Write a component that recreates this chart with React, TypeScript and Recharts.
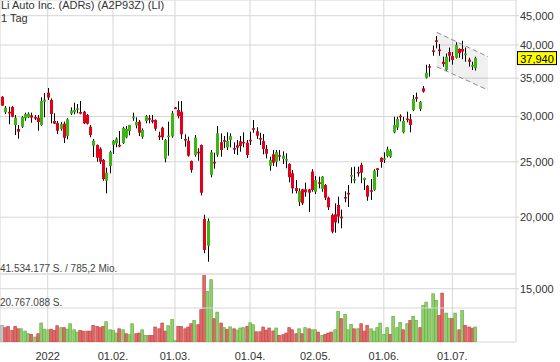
import { ComposedChart, Bar, Area, XAxis, YAxis, CartesianGrid, ReferenceLine } from "recharts";

// daily OHLC, one entry per trading day (Dec 2021 - Jul 2022)
const open = [
  32480, 30510, 30560, 31160, 28985, 28520, 28787, 29777, 29900, 30140,
  29930, 29852, 28985, 31835, 33010, 32054, 29456, 29220, 28522, 29140,
  27730, 30335, 30506, 30960, 30540, 30580, 30176, 28787, 26669, 26744,
  26348, 25177, 23165, 24578, 26744, 26926, 26760, 26958, 27580, 28294,
  29940, 28950, 29375, 27620, 29456, 29800, 29560, 29575, 27780, 28672,
  25308, 27740, 27697, 31100, 30789, 30580, 27400, 27212, 25076, 25689,
  26030, 26744, 19866, 17833, 23730, 24990, 25720, 27040, 27280, 26490,
  27288, 26420, 26712, 27147, 27090, 26990, 27310, 28620, 28260, 27500,
  27180, 26317, 24606, 25760, 25005, 25680, 25278, 25105, 24776, 23866,
  22494, 21263, 22377, 22377, 22377, 24029, 22162, 23020, 22403, 22767,
  21634, 20178, 20240, 21007, 20040, 21690, 22060, 23680, 23300, 24000,
  24676, 23230, 22703, 22300, 22314, 24350, 25410, 25330, 25586, 25515,
  28147, 28672, 30080, 28147, 29750, 29657, 30789, 32420, 30914, 33594,
  35050, 36740, 39130, 40760, 39270, 37387, 36167, 38880, 38260, 38000,
  39355, 39355, 38620, 37700, 36660, 36415,
];
const high = [
  32550, 31290, 31200, 31300, 30176, 28985, 30060, 30460, 30500, 30460,
  30176, 30176, 32405, 32967, 33640, 32270, 30383, 29456, 29340, 29380,
  29777, 31126, 31706, 31542, 31925, 30680, 30300, 28985, 27400, 26800,
  26500, 25280, 24413, 26138, 27288, 27584, 28294, 28787, 28870, 29000,
  30460, 29900, 29575, 28600, 30176, 30176, 30176, 29650, 28215, 28787,
  27400, 29375, 30680, 31164, 31885, 31925, 27920, 27650, 25120, 27842,
  26396, 26800, 20198, 19900, 26211, 25928, 28870, 28033, 27730, 28147,
  28033, 27040, 27288, 27730, 28147, 27288, 28215, 29575, 28717, 28100,
  27955, 26744, 25515, 26211, 26211, 26211, 26070, 25866, 24850, 24184,
  23230, 22465, 22420, 22980, 22420, 24263, 23600, 23550, 23600, 22860,
  21720, 20300, 21150, 21720, 20620, 22200, 22767, 24450, 24510, 24510,
  24905, 23450, 22767, 23324, 24250, 24380, 25450, 25970, 26563, 26300,
  29970, 29970, 30260, 29970, 30580, 30298, 32705, 33020, 31925, 33900,
  36950, 37040, 39900, 41470, 40160, 38155, 38650, 39580, 38880, 40440,
  39460, 40680, 39580, 38000, 37387, 38155,
];
const low = [
  31300, 30300, 29070, 29900, 27842, 27430, 28650, 29490, 29800, 29255,
  29575, 28328, 28900, 29900, 32054, 29185, 29100, 27955, 28328, 26958,
  27365, 30176, 30261, 30383, 30261, 29100, 29050, 27580, 25480, 25005,
  24776, 23165, 22014, 23866, 25792, 26500, 26500, 26850, 27470, 27810,
  29490, 28600, 27730, 27430, 29185, 29185, 29185, 28328, 27288, 27288,
  24945, 25617, 27536, 30960, 29777, 27400, 26563, 25515, 23925, 25515,
  25105, 21836, 17296, 16720, 23485, 24311, 25515, 25515, 26396, 26211,
  26490, 25792, 25689, 26030, 26490, 25380, 26744, 28100, 27400, 26744,
  25760, 25350, 24116, 24578, 24512, 25105, 24776, 24350, 23017, 22014,
  22014, 20923, 21007, 21720, 20422, 22162, 21950, 22465, 22162, 21434,
  20588, 18740, 18790, 19514, 19127, 21238, 20840, 22930, 22930, 23547,
  22930, 22314, 21370, 21434, 22250, 23540, 24413, 24875, 25450, 25400,
  28033, 28408, 29414, 28033, 29300, 28147, 30650, 31835, 30650, 33020,
  34950, 35210, 38300, 39460, 38300, 36651, 36040, 37387, 36950, 37880,
  38000, 37780, 37387, 36650, 36167, 36080,
];
const close = [
  31330, 31080, 30500, 29970, 29850, 28215, 29935, 30298, 30335, 29852,
  29900, 29339, 31925, 32093, 32380, 30298, 29140, 28328, 29102, 27536,
  29657, 30702, 30789, 31000, 30506, 29185, 29140, 27842, 27212, 25410,
  25005, 23324, 23925, 26001, 27180, 27431, 26712, 28638, 28522, 28985,
  29975, 29339, 28100, 28408, 30055, 29777, 29540, 28556, 27760, 27580,
  27288, 27770, 30383, 31075, 30055, 27921, 27330, 25617, 24184, 27536,
  26001, 22067, 17527, 19697, 25970, 24970, 28033, 26211, 27255, 27180,
  27730, 26396, 26457, 26637, 27070, 25689, 27288, 28600, 27766, 27480,
  26317, 25823, 25177, 24905, 26001, 25655, 25617, 25278, 23485, 22465,
  22224, 22224, 21151, 22109, 22074, 22314, 23230, 23000, 23547, 21634,
  20815, 18867, 19595, 20050, 20020, 21670, 22040, 23702, 23324, 23990,
  23925, 23420, 21719, 22280, 24116, 24184, 24976, 25350, 26283, 26136,
  28985, 29693, 30055, 29456, 29730, 28985, 32183, 32400, 31796, 33150,
  35770, 36710, 39100, 40740, 39250, 37046, 38155, 38300, 37652, 39995,
  38680, 38950, 38650, 37387, 36902, 37940,
];
// volume in million shares
const volMio = [
  10.4, 9.0, 9.8, 7.3, 9.8, 8.3, 8.3, 6.9, 5.3, 4.9,
  3.3, 5.3, 11.8, 8.1, 7.7, 8.1, 7.3, 10.2, 9.0, 9.0,
  8.1, 11.4, 7.7, 6.3, 7.3, 6.9, 6.9, 6.9, 10.4, 9.8,
  9.0, 9.8, 12.6, 7.7, 7.3, 5.7, 8.3, 7.7, 5.3, 4.7,
  11.4, 5.3, 5.7, 7.7, 4.3, 4.3, 4.3, 9.4, 8.3, 11.8,
  6.9, 10.2, 13.9, 1.0, 9.8, 9.8, 8.3, 9.4, 11.4, 13.4,
  10.8, 20.0, 41.534177, 31.2, 38.3, 14.5, 18.5, 11.8, 9.0, 8.0,
  9.5, 8.3, 7.5, 8.8, 9.0, 9.8, 12.0, 10.8, 6.5, 6.5,
  9.4, 7.5, 8.8, 7.0, 8.8, 4.3, 4.7, 5.7, 9.0, 7.7,
  5.3, 8.3, 5.3, 9.0, 8.3, 7.7, 7.7, 6.3, 4.3, 4.9,
  5.7, 6.3, 7.7, 18.9, 14.5, 17.1, 7.7, 11.0, 8.3, 8.3,
  11.4, 6.9, 10.4, 8.3, 6.9, 9.0, 11.8, 4.9, 9.0, 4.9,
  15.9, 9.0, 12.2, 7.7, 11.4, 13.4, 15.9, 13.4, 9.0, 22.6,
  24.6, 20.5, 29.7, 25.7, 16.5, 30.1, 17.9, 14.8, 14.5, 17.9,
  7.7, 19.5, 10.4, 9.4, 8.7, 9.4,
];

const priceTicks = [15000, 20000, 25000, 30000, 35000, 40000, 45000];
const dateTickIdx = [14, 34, 53, 76, 96, 117, 138];
const dateTickLabels = ["2022", "01.02.", "01.03.", "01.04.", "02.05.", "01.06.", "01.07."];

const lastPrice = 37940;
const volMax = 41.534177;
const volHalf = 20.767088;

// descending trend channel (start/end day index, lower/upper price)
const channel = [
  { i: 133.2, band: [36650, 42090] },
  { i: 148.9, band: [33370, 38155] },
];

const RED = "#e2001a";
const GREEN = "#3cb515";
const GRID = "#d6d6d6";
const FONT = "'Liberation Sans', Arial, sans-serif";

const rows = open.map((o, i) => ({
  i,
  o,
  h: high[i],
  l: low[i],
  c: close[i],
  range: [low[i], high[i]],
  vol: volMio[i],
  prev: i > 0 ? close[i - 1] : null,
}));

function Candle(props: any) {
  const { x, y, width, height, payload } = props;
  if (!payload || height == null) return null;
  const { o, h, l, c } = payload;
  const top = Math.min(y, y + height);
  const span = Math.abs(height);
  const lh = Math.log(h);
  const lr = lh - Math.log(l) || 1;
  const at = (v: number) => top + (span * (lh - Math.log(v))) / lr;
  const cx = Math.round(x + width / 2) + 0.5;
  const bTop = at(Math.max(o, c));
  const bBot = at(Math.min(o, c));
  const bh = Math.max(bBot - bTop, 1.6);
  return (
    <g>
      <line x1={cx} x2={cx} y1={top} y2={top + span} stroke="#000" strokeWidth={1} />
      <rect x={cx - 1.5} y={bTop} width={3} height={bh} fill={c >= o ? GREEN : RED} />
    </g>
  );
}

function VolBar(props: any) {
  const { x, y, width, height, payload } = props;
  if (!payload || !height) return null;
  const cx = Math.round(x + width / 2);
  let fill = "#c9c9c9";
  let stroke = "#9a9a9a";
  if (payload.prev != null) {
    const up = payload.c >= payload.prev;
    fill = up ? "#93cf70" : "#df6a6a";
    stroke = up ? "#62ad3e" : "#c84444";
  }
  return (
    <rect x={cx - 1.2} y={y + 0.4} width={2.6} height={Math.max(height - 0.4, 0)} fill={fill} stroke={stroke} strokeWidth={0.7} />
  );
}

function PriceTag(props: any) {
  const { viewBox } = props;
  if (!viewBox) return null;
  const right = viewBox.x + viewBox.width;
  return (
    <g>
      <rect x={right + 1.5} y={viewBox.y - 6.5} width={39} height={13} fill="#ffff00" stroke="#000" strokeWidth={1} />
      <text x={right + 21} y={viewBox.y + 0.5} textAnchor="middle" dominantBaseline="central" fontSize={11} fontFamily={FONT} fill="#000">
        {lastPrice.toLocaleString("en-US")}
      </text>
    </g>
  );
}

const xDomain = [-0.62, 157.5];

export default function App() {
  return (
    <div style={{ position: "absolute", left: 0, top: 0, width: 560, height: 362, background: "#fff", fontFamily: FONT }}>
      <ComposedChart width={560} height={362} data={rows} margin={{ top: 0, right: 0, bottom: 0, left: 0 }}>
        <XAxis
          xAxisId="p"
          dataKey="i"
          type="number"
          domain={xDomain}
          allowDataOverflow
          ticks={dateTickIdx}
          tickFormatter={(v) => dateTickLabels[dateTickIdx.indexOf(v)] ?? ""}
          height={20}
          axisLine={false}
          tickLine={false}
          tickSize={6}
          tickMargin={4}
          interval={0}
          tick={{ fontSize: 11, fill: "#333", fontFamily: FONT }}
        />
        <XAxis xAxisId="v" dataKey="i" type="number" domain={xDomain} allowDataOverflow hide />
        <YAxis
          yAxisId="p"
          orientation="right"
          scale="log"
          domain={[12104.6, 47935]}
          allowDataOverflow
          ticks={priceTicks}
          interval={0}
          tickFormatter={(v) => Number(v).toLocaleString("en-US")}
          width={44}
          axisLine={false}
          tickLine={{ stroke: GRID }}
          tickSize={3}
          tickMargin={1}
          tick={{ fontSize: 11, fill: "#333", fontFamily: FONT }}
        />
        <YAxis yAxisId="v" domain={[0, 208.89]} allowDataOverflow hide />
        <CartesianGrid xAxisId="p" yAxisId="p" stroke={GRID} />
        <ReferenceLine xAxisId="v" yAxisId="v" y={volMax} stroke="#e3e3e3" strokeWidth={2} />
        <ReferenceLine xAxisId="v" yAxisId="v" y={volHalf} stroke={GRID} />
        <Area
          xAxisId="p"
          yAxisId="p"
          data={channel}
          dataKey="band"
          type="linear"
          stroke="none"
          fill="#000"
          fillOpacity={0.06}
          isAnimationActive={false}
          dot={false}
          activeDot={false}
        />
        <ReferenceLine
          xAxisId="p"
          yAxisId="p"
          segment={[{ x: channel[0].i, y: channel[0].band[1] }, { x: channel[1].i, y: channel[1].band[1] }]}
          stroke="#8c8c8c"
          strokeDasharray="5 3"
        />
        <ReferenceLine
          xAxisId="p"
          yAxisId="p"
          segment={[{ x: channel[0].i, y: channel[0].band[0] }, { x: channel[1].i, y: channel[1].band[0] }]}
          stroke="#8c8c8c"
          strokeDasharray="5 3"
        />
        <Bar xAxisId="v" yAxisId="v" dataKey="vol" barSize={3} shape={<VolBar />} isAnimationActive={false} />
        <Bar xAxisId="p" yAxisId="p" dataKey="range" barSize={3} shape={<Candle />} isAnimationActive={false} />
        <ReferenceLine xAxisId="p" yAxisId="p" y={lastPrice} stroke="none" label={<PriceTag />} />
      </ComposedChart>
      <div style={{ position: "absolute", left: 1, top: -1, fontSize: 11, lineHeight: "12.7px", color: "#333", whiteSpace: "nowrap" }}>
        Li Auto Inc. (ADRs) (A2P93Z) (LI)
      </div>
      <div style={{ position: "absolute", left: 1, top: 11.8, fontSize: 11, lineHeight: "12.7px", color: "#333", whiteSpace: "nowrap" }}>
        1 Tag
      </div>
      <div style={{ position: "absolute", left: 0, top: 264, fontSize: 10, lineHeight: "10px", color: "#444", whiteSpace: "nowrap" }}>
        41.534.177 S. / 785,2 Mio.
      </div>
      <div style={{ position: "absolute", left: 0, top: 298, fontSize: 10, lineHeight: "10px", color: "#444", whiteSpace: "nowrap" }}>
        20.767.088 S.
      </div>
    </div>
  );
}
